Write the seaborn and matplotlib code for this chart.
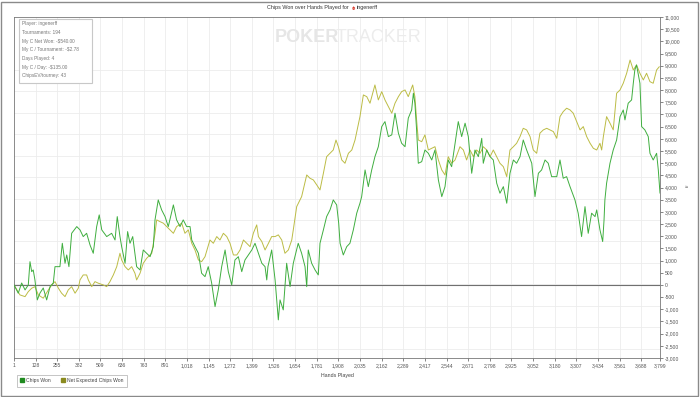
import matplotlib
matplotlib.use("Agg")
import matplotlib.pyplot as plt
from matplotlib.lines import Line2D
import numpy as np
import pandas as pd
import seaborn as sns

# chips won (green)
won_hands = [1, 26, 46, 66, 85, 95, 105, 114, 124, 138, 154, 173, 193, 213, 232, 242, 271, 285, 301, 311,
             324, 340, 370, 389, 408, 428, 448, 467, 487, 502, 517, 546, 575, 595, 608, 624, 634, 654, 669, 683,
             699, 722, 742, 761, 781, 801, 820, 830, 849, 869, 889, 908, 938, 957, 977, 996, 1016, 1036, 1046, 1065,
             1085, 1104, 1124, 1143, 1163, 1183, 1202, 1222, 1242, 1261, 1281, 1300, 1320, 1340, 1359, 1399, 1418, 1438, 1458, 1477,
             1487, 1494, 1516, 1536, 1555, 1565, 1584, 1604, 1624, 1643, 1672, 1692, 1712, 1722, 1731, 1751, 1771, 1790, 1800, 1820,
             1839, 1859, 1878, 1898, 1910, 1918, 1937, 1957, 1976, 1996, 2016, 2035, 2045, 2065, 2084, 2104, 2123, 2143, 2163, 2182,
             2202, 2222, 2241, 2261, 2280, 2300, 2319, 2339, 2349, 2358, 2368, 2378, 2398, 2417, 2437, 2457, 2476, 2496, 2516, 2535,
             2554, 2574, 2594, 2613, 2633, 2653, 2672, 2692, 2711, 2731, 2751, 2760, 2780, 2800, 2819, 2839, 2858, 2878, 2898, 2917,
             2937, 2956, 2976, 2995, 3015, 3045, 3064, 3084, 3103, 3123, 3142, 3162, 3192, 3211, 3230, 3250, 3270, 3299, 3318, 3338,
             3358, 3377, 3397, 3417, 3427, 3446, 3462, 3470, 3475, 3485, 3505, 3524, 3544, 3564, 3583, 3593, 3612, 3632, 3642, 3651,
             3661, 3681, 3691, 3710, 3730, 3740, 3759, 3779, 3789, 3799]
won_chips = [0, -340, 80, -205, 0, 955, 545, 615, 205, -615, -330, -125, -615, -70, 80, 750, 750, 1710, 890, 1230,
             750, 2120, 2395, 2260, 1985, 2120, 1640, 1300, 2395, 2875, 2260, 1985, 2120, 1845, 2805, 1985, 1570, 890, 2190, 1710,
             1985, 750, 615, 1435, 1300, 1160, 1570, 2670, 3490, 3080, 2805, 2395, 3285, 2670, 2395, 2670, 2395, 2395, 1845, 1570,
             1300, 480, 340, 750, 80, -890, -205, 750, 1435, 545, 0, 1025, 1160, 545, 1025, 1435, 1710, 1300, 890, 750,
             205, 750, 1435, 205, -1435, -615, -1025, 890, -70, 890, 1710, 1300, 750, -70, 1435, 890, 615, 410, 1710, 2260,
             2805, 3080, 3490, 3285, 2535, 1710, 1230, 1570, 1710, 2260, 2945, 3355, 3625, 4720, 4035, 4720, 5265, 5675, 6500, 6705,
             6090, 6160, 7050, 6230, 5815, 5675, 6845, 7185, 7870, 7460, 6365, 4995, 5060, 5540, 5405, 5130, 5540, 4310, 3625, 4035,
             5130, 4855, 5815, 6705, 6090, 6640, 6090, 4585, 5540, 5265, 6020, 4995, 5540, 5265, 5130, 4175, 3765, 4035, 3355, 4585,
             5130, 4995, 5265, 5950, 5540, 4995, 3625, 4585, 4720, 5130, 4995, 4445, 4445, 5130, 4380, 4445, 4035, 3490, 2945, 1985,
             3215, 2120, 2945, 2805, 3080, 2260, 1780, 2670, 3490, 4175, 4995, 5540, 5950, 6910, 7185, 6775, 7460, 7595, 8280, 8825,
             9030, 8280, 6500, 6365, 6090, 5405, 5130, 5405, 4720, 3765]

# net expected chips won (olive)
ev_hands = [1, 36, 66, 85, 105, 124, 144, 173, 203, 223, 242, 262, 281, 301, 320, 340, 360, 379, 389, 408,
            428, 438, 458, 477, 497, 526, 546, 565, 585, 605, 624, 634, 654, 673, 693, 712, 722, 742, 761, 781,
            811, 830, 840, 859, 879, 899, 918, 938, 957, 987, 1006, 1026, 1046, 1065, 1085, 1104, 1124, 1153, 1173, 1193,
            1212, 1232, 1252, 1271, 1291, 1311, 1330, 1350, 1369, 1389, 1408, 1428, 1438, 1458, 1477, 1497, 1516, 1536, 1555, 1575,
            1594, 1614, 1634, 1643, 1663, 1682, 1692, 1722, 1741, 1761, 1781, 1800, 1820, 1839, 1859, 1878, 1894, 1908, 1928, 1947,
            1967, 1987, 2006, 2035, 2055, 2075, 2094, 2123, 2143, 2163, 2182, 2202, 2222, 2241, 2261, 2280, 2300, 2319, 2345, 2358,
            2368, 2378, 2398, 2417, 2437, 2457, 2476, 2496, 2516, 2535, 2554, 2574, 2594, 2623, 2643, 2662, 2682, 2702, 2721, 2741,
            2760, 2780, 2800, 2819, 2839, 2858, 2878, 2898, 2907, 2917, 2937, 2956, 2976, 2995, 3015, 3035, 3054, 3074, 3093, 3113,
            3133, 3152, 3172, 3192, 3211, 3230, 3250, 3270, 3289, 3309, 3329, 3348, 3368, 3388, 3407, 3427, 3446, 3456, 3466, 3485,
            3505, 3524, 3544, 3564, 3583, 3603, 3623, 3642, 3661, 3681, 3701, 3720, 3740, 3759, 3779, 3795]
ev_chips = [0, -410, -480, -275, -135, -70, -410, -545, -205, 0, 135, -135, -340, -480, -205, -70, -340, -135, 205, 410,
            410, 205, -70, 135, 70, 0, -70, 135, 410, 750, 1300, 1025, 750, 615, 750, 480, 205, 480, 890, 1095,
            1300, 2120, 2670, 2600, 2535, 2395, 2260, 2120, 2395, 2535, 2120, 2260, 1710, 1435, 1025, 955, 1160, 1845, 1710, 1985,
            1845, 2120, 1985, 1710, 1230, 1230, 1435, 1845, 1710, 1570, 2120, 2465, 1985, 1780, 1435, 1710, 1985, 1985, 2055, 1845,
            1300, 1435, 1845, 2260, 3215, 3490, 3625, 4515, 4380, 4310, 4105, 3900, 4585, 5265, 5405, 5540, 5950, 5675, 5130, 4995,
            5405, 5540, 5950, 6910, 7800, 7730, 7460, 8210, 7595, 7935, 7595, 7320, 7050, 7460, 7730, 7935, 8005, 7730, 8210, 7730,
            6775, 5950, 5880, 6160, 5540, 5610, 5675, 5130, 4720, 4515, 5265, 4995, 5130, 5675, 5540, 5130, 5540, 5265, 5540, 5405,
            5675, 5540, 5265, 5540, 5265, 4995, 4855, 4445, 4995, 5540, 5675, 5815, 6090, 6430, 6365, 6090, 5540, 5405, 6230, 6365,
            6430, 6365, 6295, 6020, 6910, 7115, 7255, 7185, 7050, 6705, 6365, 6500, 6090, 5815, 5610, 5540, 5815, 5540, 6090, 6910,
            6640, 6365, 7870, 8005, 8280, 8690, 9235, 8825, 9030, 8690, 8415, 8690, 8345, 8280, 8825, 8960]

x_ticks = [1, 128, 255, 382, 509, 636, 763, 891, 1018, 1145, 1272, 1399, 1526, 1654, 1781, 1908,
           2035, 2162, 2289, 2417, 2544, 2671, 2798, 2925, 3052, 3180, 3307, 3434, 3561, 3688, 3799]
y_ticks = list(range(-3000, 11001, 500))

info_lines = ["Player: ingenerff", "Tournaments: 194", "My C Net Won: -$540.00",
              "My C / Tournament: -$2.78", "Days Played: 4", "My C / Day: -$135.00",
              "ChipsEV/tourney: 43"]

won_color = "#3fae3f"
ev_color = "#bcbc45"

sns.set_theme(style="white")
plt.rcParams["font.family"] = ["Liberation Sans", "DejaVu Sans"]

W, H = 700, 397
fig = plt.figure(figsize=(W / 100, H / 100), dpi=100)
ax = fig.add_axes([14 / W, (H - 358) / H, 646 / W, 341 / H])

won = pd.DataFrame({"hand": won_hands, "chips": won_chips})
ev = pd.DataFrame({"hand": ev_hands, "chips": ev_chips})

# background grid: vertical at the hand ticks, horizontal as a square pattern
for t in x_ticks[1:-1]:
    ax.axvline(t, color="#ececec", lw=0.6, zorder=0)
for g in np.arange(8826, -3000, -880):
    ax.axhline(g, color="#ececec", lw=0.6, zorder=0)
ax.axhline(0, color="#707070", lw=0.8, zorder=1)

sns.lineplot(data=ev, x="hand", y="chips", ax=ax, color=ev_color, lw=0.7,
             estimator=None, sort=False, zorder=2)
sns.lineplot(data=won, x="hand", y="chips", ax=ax, color=won_color, lw=0.7,
             estimator=None, sort=False, zorder=3)

ax.set_xlim(1, 3799)
ax.set_ylim(-3000, 11000)
ax.set_xticks(x_ticks)
ax.set_xticklabels([f"{t:,}" for t in x_ticks])
ax.yaxis.tick_right()
ax.set_yticks(y_ticks)
ax.set_yticklabels([f"{t:,}" for t in y_ticks])
ax.tick_params(axis="both", labelsize=3.6, colors="#555555", length=2, width=0.5, pad=1.5, direction="out")
ax.tick_params(axis="x", bottom=True)
ax.tick_params(axis="y", right=True)
ax.set_xlabel("Hands Played", fontsize=3.8, color="#444444", labelpad=2)
ax.set_ylabel("")
ax.xaxis.set_label_coords(0.5, -0.045)
for side, sp in ax.spines.items():
    sp.set_color("#777777")
    sp.set_linewidth(0.6)

# title and watermark
fig.text(0.5, 1 - 8 / H, "Chips Won over Hands Played for ", fontsize=3.9, color="#333333",
         ha="right", va="center")
fig.text(0.5 + 2 / W, 1 - 8 / H, "\u2660", fontsize=4.5, color="#d93a2b", ha="left", va="center")
fig.text(0.5 + 7 / W, 1 - 8 / H, "ingenerff", fontsize=3.9, color="#333333", ha="left", va="center")
fig.text(275 / W, 1 - 38 / H, "POKER", fontsize=13, fontweight="bold", color="#e6e6e6",
         ha="left", va="center")
fig.text(336 / W, 1 - 38 / H, "TRACKER", fontsize=13, color="#ececec", ha="left", va="center")

# info box
box = plt.Rectangle((19 / W, 1 - 83 / H), 73 / W, 64 / H, transform=fig.transFigure,
                    facecolor="white", edgecolor="#c8c8c8", lw=0.8, zorder=5)
fig.patches.append(box)
for i, line in enumerate(info_lines):
    fig.text(22 / W, 1 - (24 + i * 8.6) / H, line, fontsize=3.4, color="#777777",
             ha="left", va="center", zorder=6)

# legend
handles = [Line2D([], [], marker="s", ls="", color="#1f8a1f", markersize=2.6, label="Chips Won"),
           Line2D([], [], marker="s", ls="", color="#8a8a1f", markersize=2.6, label="Net Expected Chips Won")]
leg = fig.legend(handles=handles, loc="lower left", bbox_to_anchor=(14 / W, 8 / H), ncol=2,
                 fontsize=3.6, frameon=True, fancybox=False, handletextpad=0.3, columnspacing=2.2,
                 borderpad=0.7, handlelength=0.8)
leg.get_frame().set_edgecolor("#aaaaaa")
leg.get_frame().set_linewidth(0.6)
for t in leg.get_texts():
    t.set_color("#444444")

# outer frame
frame = plt.Rectangle((1 / W, 1 / H), (W - 3) / W, (H - 3) / H, transform=fig.transFigure,
                      fill=False, edgecolor="#8a8a8a", lw=1.0)
fig.patches.append(frame)
fig.text(686 / W, 1 - 188 / H, "\u2248", fontsize=4, color="#555555", ha="center", va="center")

fig.savefig("out.png", dpi=100)
